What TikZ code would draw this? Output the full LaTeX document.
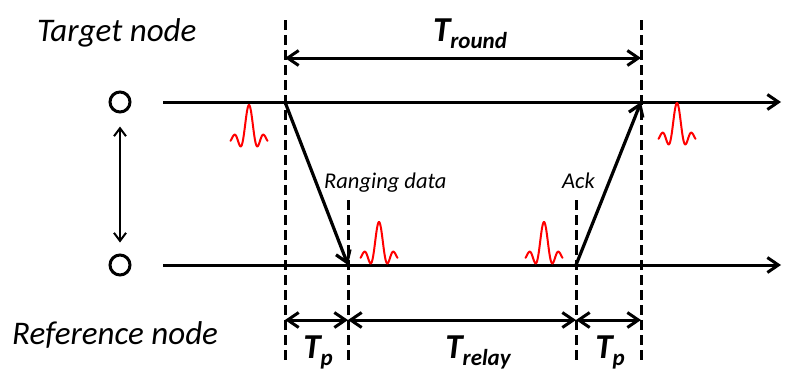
\documentclass[tikz,border=0pt]{standalone}
\usepackage{fontspec}
\setsansfont{Carlito}
\usetikzlibrary{arrows.meta}

\newcommand{\wavelet}[2]{%
  \draw[pulse,shift={(#1,#2)}] plot[domain=-10:10,samples=80,smooth] ({1.85*\x},{-34*sin(\x r)/\x});}
\newcommand{\tsub}[1]{\textbf{T}\raisebox{-7pt}{\fontsize{23}{23}\selectfont\bfseries #1}}

\tikzset{
  timeline/.style={line width=3pt,-{Straight Barb[length=11pt,width=15pt,line width=3pt]}},
  msg/.style={line width=3.2pt,-{Straight Barb[length=11pt,width=15pt,line width=3.2pt]}},
  span/.style={line width=3pt,{Straight Barb[length=11pt,width=15pt,line width=3pt]}-{Straight Barb[length=11pt,width=15pt,line width=3pt]}},
  dist/.style={line width=2pt,{Straight Barb[length=8pt,width=12pt,line width=2pt]}-{Straight Barb[length=8pt,width=12pt,line width=2pt]}},
  guide/.style={line width=3pt,dash pattern=on 10pt off 5pt},
  pulse/.style={red,line width=2pt,line cap=round},
  station/.style={circle,draw,line width=3pt,minimum size=20pt,inner sep=0pt},
  nodename/.style={inner sep=0pt,font=\sffamily\itshape\fontsize{33}{36}\selectfont},
  note/.style={inner sep=0pt,font=\sffamily\itshape\fontsize{22.5}{26}\selectfont},
  dur/.style={inner sep=0pt,font=\sffamily\itshape\bfseries\fontsize{35}{38}\selectfont}
}

\begin{document}
\begin{tikzpicture}[x=1pt,y=-1pt,line cap=butt]
  \useasboundingbox (0,0) rectangle (795,370);

  % nodes and timelines
  \node[station] (tn) at (120,102) {};
  \node[station] (rn) at (120,265) {};
  \coordinate (t0) at (163,102); \coordinate (t1) at (781,102);
  \coordinate (r0) at (163,265); \coordinate (r1) at (781,265);
  \draw[timeline] (t0) -- (t1);
  \draw[timeline] (r0) -- (r1);
  \draw[dist] ([yshift=-13pt]tn.south) -- ([yshift=11pt]rn.north);

  % time marks
  \coordinate (a) at (285,102); \coordinate (b) at (348,265);
  \coordinate (c) at (576,265); \coordinate (d) at (641,102);
  \draw[guide] (285,20) -- (285,362);
  \draw[guide] (348,200) -- (348,362);
  \draw[guide] (576,200) -- (576,362);
  \draw[guide] (641,20) -- (641,362);

  % messages
  \draw[msg] (a) -- (b);
  \draw[msg] (c) -- (d);

  % intervals
  \coordinate (ra) at (285,58); \coordinate (rd) at (641,58);
  \coordinate (pa) at (285,320); \coordinate (pb) at (348,320);
  \coordinate (pc) at (576,320); \coordinate (pd) at (641,320);
  \draw[span] (ra) -- (rd);
  \draw[span] (pa) -- (pb);
  \draw[span] (pb) -- (pc);
  \draw[span] (pc) -- (pd);

  % pulses
  \wavelet{249}{139}
  \wavelet{379}{256}
  \wavelet{544}{256}
  \wavelet{677}{137}

  % labels
  \node[nodename,anchor=base west] (tgt) at (37,41) {Target node};
  \node[nodename,anchor=base west] (ref) at (12,344) {Reference node};
  \node[note,anchor=base west] (rng) at (324,188) {Ranging data};
  \node[note,anchor=base west] (ack) at (562,188) {Ack};
  \node[dur,anchor=base] (tr) at (470,41) {\tsub{round}};
  \node[dur,anchor=base] (tp1) at (318,358) {\tsub{p}};
  \node[dur,anchor=base] (trl) at (478,358) {\tsub{relay}};
  \node[dur,anchor=base] (tp2) at (610,358) {\tsub{p}};
\end{tikzpicture}
\end{document}
